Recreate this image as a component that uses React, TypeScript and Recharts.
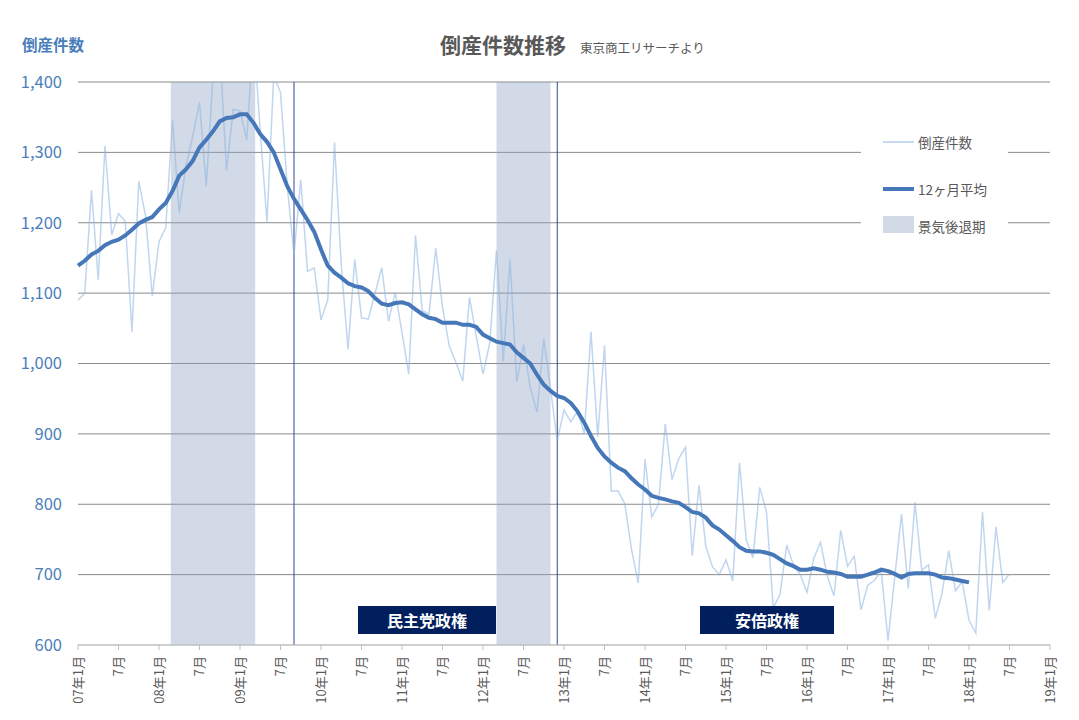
import React from 'react'
import { CartesianGrid, Line, LineChart, ReferenceArea, ReferenceLine, XAxis, YAxis } from 'recharts'

// 月次の倒産件数 (07年1月 = 0)
const counts = [
  1090, 1100, 1246, 1119, 1309, 1183, 1213, 1202, 1045, 1259, 1210, 1096,
  1173, 1193, 1346, 1214, 1281, 1323, 1371, 1252, 1408, 1450, 1274, 1361,
  1359, 1318, 1470, 1330, 1201, 1410, 1385, 1252, 1155, 1261, 1131, 1136,
  1062, 1090, 1314, 1140, 1020, 1148, 1065, 1063, 1100, 1136, 1060, 1101,
  1044, 985, 1182, 1075, 1070, 1164, 1080, 1025, 1001, 975, 1094, 1039,
  985, 1029, 1161, 1003, 1148, 974, 1027, 966, 931, 1035, 965, 890,
  934, 917, 932, 901, 1045, 896, 1026, 819, 819, 801, 736, 688,
  864, 782, 800, 914, 835, 865, 881, 727, 827, 741, 711, 700,
  721, 691, 859, 749, 724, 824, 789, 653, 672, 742, 713, 700,
  675, 723, 746, 698, 670, 763, 712, 726, 650, 685, 692, 706,
  606, 697, 786, 680, 803, 706, 714, 638, 673, 734, 677, 690,
  635, 617, 789, 649, 768, 689, 701,
]

// 12ヶ月平均
const movingAvg = [
  1139, 1146, 1155, 1160, 1168, 1173, 1176, 1182, 1190, 1199, 1204, 1208,
  1219, 1228, 1245, 1267, 1276, 1288, 1307, 1318, 1330, 1344, 1349, 1350,
  1354, 1354, 1342, 1326, 1315, 1300, 1276, 1252, 1234, 1219, 1204, 1187,
  1162, 1139, 1129, 1122, 1114, 1110, 1108, 1103, 1093, 1085, 1083, 1086,
  1087, 1084, 1077, 1070, 1065, 1063, 1058, 1058, 1058, 1055, 1055, 1052,
  1041, 1036, 1031, 1029, 1027, 1016, 1008, 1000, 984, 970, 961, 954,
  951, 944, 932, 916, 897, 880, 868, 859, 852, 847, 837, 828,
  821, 812, 809, 807, 804, 802, 796, 789, 787, 781, 770, 764,
  756, 748, 739, 734, 733, 733, 731, 728, 722, 716, 712, 707,
  707, 709, 707, 704, 703, 701, 697, 697, 697, 700, 703, 707,
  705, 701, 696, 701, 702, 702, 702, 700, 696, 695, 693, 691,
  689,
]

// 景気後退期 (月インデックス)
const recessions = [
  { from: 13.75, to: 26.25 },
  { from: 62, to: 70 },
]

// 政権交代の月
const regimeChanges = [32, 71]

const xTickLabels = [
  '07年1月', '7月', '08年1月', '7月', '09年1月', '7月', '10年1月', '7月',
  '11年1月', '7月', '12年1月', '7月', '13年1月', '7月', '14年1月', '7月',
  '15年1月', '7月', '16年1月', '7月', '17年1月', '7月', '18年1月', '7月', '19年1月',
]
const yTicks = [600, 700, 800, 900, 1000, 1100, 1200, 1300, 1400]

const data = counts.map((c, i) => ({ m: i, count: c, ma: movingAvg[i] }))
const xTicks = xTickLabels.map((_, i) => i * 6)

const FONT = '"Noto Sans CJK JP", "Noto Sans", sans-serif'
const BLUE = '#4a7ebb'
const BAND = '#8ea3c3'

const MonthTick = (props: any) => {
  const { x, y, payload } = props
  const label = xTickLabels[Math.round(payload.value / 6)]
  const ty = y + 4
  return (
    <text
      x={x}
      y={ty}
      dy="0.35em"
      transform={`rotate(-90 ${x} ${ty})`}
      textAnchor="end"
      fontSize={13}
      fill="#595959"
      fontFamily={FONT}
    >
      {label}
    </text>
  )
}

const govBox: React.CSSProperties = {
  position: 'absolute',
  top: 606,
  height: 28,
  background: '#001f5c',
  color: '#fff',
  fontWeight: 700,
  fontSize: 16,
  lineHeight: '28px',
  textAlign: 'center',
}

const App = () => {
  return (
    <div style={{ position: 'absolute', left: 0, top: 0, width: 1079, height: 720, background: '#fff', fontFamily: FONT }}>
      <LineChart width={1079} height={720} data={data} margin={{ top: 82, right: 29, left: 0, bottom: 0 }}>
        <CartesianGrid horizontal vertical={false} stroke="#8a8a8a" />
        {recessions.map((r) => (
          <ReferenceArea key={r.from} x1={r.from} x2={r.to} fill={BAND} fillOpacity={0.4} stroke="none" />
        ))}
        {regimeChanges.map((m) => (
          <ReferenceLine key={m} x={m} stroke="#2f4b8c" strokeWidth={1} />
        ))}
        <XAxis
          dataKey="m"
          type="number"
          domain={[0, 144]}
          ticks={xTicks}
          interval={0}
          height={75}
          tick={<MonthTick />}
          tickSize={5}
          axisLine={{ stroke: '#d9d9d9' }}
          tickLine={{ stroke: '#bfbfbf' }}
        />
        <YAxis
          type="number"
          domain={[600, 1400]}
          ticks={yTicks}
          allowDataOverflow
          width={78}
          axisLine={false}
          tickLine={false}
          tickSize={0}
          tickMargin={16}
          tickFormatter={(v: number) => v.toLocaleString('en-US')}
          tick={{ fill: BLUE, fontSize: 16.5, fontFamily: FONT }}
        />
        <Line
          dataKey="count"
          type="linear"
          stroke="#8db4e2"
          strokeOpacity={0.55}
          strokeWidth={1.5}
          dot={false}
          isAnimationActive={false}
        />
        <Line
          dataKey="ma"
          type="linear"
          stroke="#4677b8"
          strokeWidth={4}
          dot={false}
          isAnimationActive={false}
        />
      </LineChart>

      <div style={{ position: 'absolute', left: 22, top: 33, fontSize: 15.5, fontWeight: 700, color: BLUE }}>倒産件数</div>
      <div style={{ position: 'absolute', left: 440, top: 29, whiteSpace: 'nowrap', color: '#595959' }}>
        <span style={{ fontSize: 21, fontWeight: 700 }}>倒産件数推移</span>
        <span style={{ fontSize: 12.5, marginLeft: 14 }}>東京商工リサーチより</span>
      </div>

      <div style={{ position: 'absolute', left: 861, top: 115, width: 147, height: 130, background: '#fff', fontSize: 13.5, color: '#595959' }}>
        <div style={{ position: 'absolute', left: 22, top: 26, width: 31, height: 1.5, background: '#c6daf1' }} />
        <div style={{ position: 'absolute', left: 57, top: 17, lineHeight: '20px' }}>倒産件数</div>
        <div style={{ position: 'absolute', left: 22, top: 72, width: 31, height: 3.5, background: '#4677b8' }} />
        <div style={{ position: 'absolute', left: 57, top: 64, lineHeight: '20px' }}>12ヶ月平均</div>
        <div style={{ position: 'absolute', left: 22, top: 101, width: 31, height: 17, background: '#d2dae6' }} />
        <div style={{ position: 'absolute', left: 57, top: 101, lineHeight: '20px' }}>景気後退期</div>
      </div>

      <div style={{ ...govBox, left: 358, width: 138 }}>民主党政権</div>
      <div style={{ ...govBox, left: 700, width: 134 }}>安倍政権</div>
    </div>
  )
}

export default App
